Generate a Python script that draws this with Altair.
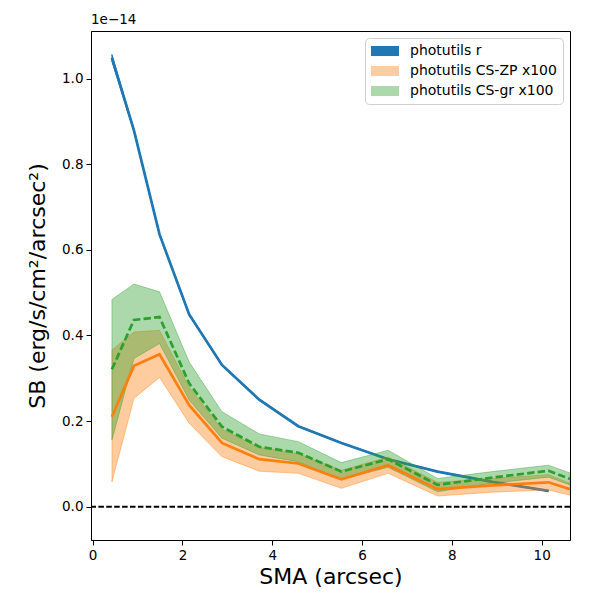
import pandas as pd
import altair as alt

# surface brightness profiles, values in units of 1e-14 erg/s/cm2/arcsec2
sma = [0.43, 0.92, 1.49, 2.15, 2.88, 3.71, 4.58, 5.54, 6.58, 7.68, 8.9, 10.15]
sma_cs = sma + [10.63]

sb_r = [1.048, 0.879, 0.636, 0.449, 0.331, 0.250, 0.188, 0.149, 0.111, 0.082, 0.058, 0.037]
sb_r_err = [0.008, 0.003, 0.002, 0.002, 0.002, 0.0015, 0.001, 0.001, 0.001, 0.001, 0.001, 0.001]

zp_mid = [0.210, 0.329, 0.356, 0.237, 0.149, 0.111, 0.101, 0.064, 0.097, 0.041, 0.050, 0.057, 0.041]
zp_hi = [0.366, 0.408, 0.412, 0.279, 0.181, 0.139, 0.124, 0.085, 0.116, 0.057, 0.066, 0.075, 0.055]
zp_lo = [0.058, 0.253, 0.302, 0.195, 0.117, 0.083, 0.078, 0.043, 0.078, 0.025, 0.034, 0.039, 0.027]

gr_mid = [0.321, 0.436, 0.443, 0.288, 0.187, 0.140, 0.126, 0.082, 0.111, 0.051, 0.068, 0.084, 0.065]
gr_hi = [0.484, 0.520, 0.502, 0.338, 0.222, 0.170, 0.152, 0.103, 0.132, 0.066, 0.082, 0.097, 0.079]
gr_lo = [0.156, 0.346, 0.381, 0.249, 0.160, 0.121, 0.105, 0.064, 0.092, 0.035, 0.055, 0.069, 0.051]

labels = ['photutils r', 'photutils CS-ZP x100', 'photutils CS-gr x100']
legend_colors = ['#1f77b4', '#ffcc9f', '#abd9ab']

BLUE, ORANGE, GREEN = '#1f77b4', '#ff7f0e', '#2ca02c'
FONT = 'DejaVu Sans'

r_df = pd.DataFrame({'sma': sma, 'sb': sb_r,
                     'hi': [a + b for a, b in zip(sb_r, sb_r_err)],
                     'lo': [a - b for a, b in zip(sb_r, sb_r_err)]})
zp_df = pd.DataFrame({'sma': sma_cs, 'sb': zp_mid, 'hi': zp_hi, 'lo': zp_lo})
gr_df = pd.DataFrame({'sma': sma_cs, 'sb': gr_mid, 'hi': gr_hi, 'lo': gr_lo})

xs = alt.Scale(domain=[-0.036, 10.63], nice=False, zero=False)
ys = alt.Scale(domain=[-0.0777, 1.111], nice=False, zero=False)

x_enc = alt.X('sma:Q', scale=xs, title='SMA (arcsec)',
              axis=alt.Axis(values=[0, 2, 4, 6, 8, 10], format='d'))
y_enc = alt.Y('sb:Q', scale=ys, title='SB (erg/s/cm²/arcsec²)',
              axis=alt.Axis(values=[0, 0.2, 0.4, 0.6, 0.8, 1.0], format='.1f'))


def band(df, color, alpha):
    return alt.Chart(df).mark_area(color=color, fillOpacity=alpha, stroke=color,
                                   strokeOpacity=alpha, strokeWidth=1, clip=True).encode(
        x=x_enc, y=alt.Y('lo:Q', scale=ys), y2='hi:Q')


def line(df, color, dash=None):
    kw = dict(color=color, strokeWidth=2.7, clip=True)
    if dash:
        kw['strokeDash'] = dash
    return alt.Chart(df).mark_line(**kw).encode(x=x_enc, y=y_enc)


zero = alt.Chart(pd.DataFrame({'sb': [0]})).mark_rule(
    color='black', strokeWidth=2, strokeDash=[5.5, 2.4]).encode(y=alt.Y('sb:Q', scale=ys))

# legend only
leg_df = pd.DataFrame({'sma': [sma[0]] * 3, 'sb': [0] * 3, 'series': labels})
leg = alt.Chart(leg_df).mark_square(opacity=0).encode(
    x=x_enc, y=y_enc,
    color=alt.Color('series:N', scale=alt.Scale(domain=labels, range=legend_colors),
                    legend=alt.Legend(title=None, orient='top-right', symbolOpacity=1,
                                      symbolType='M-2,-0.72H2V0.72H-2Z', symbolSize=196,
                                      symbolOffset=7, symbolStrokeWidth=0)))

offset_txt = alt.Chart(pd.DataFrame({'t': ['1e−14']})).mark_text(
    align='left', baseline='bottom', font=FONT, fontSize=13.5, color='black').encode(
    x=alt.value(0), y=alt.value(-4), text='t:N')

chart = alt.layer(
    band(r_df, BLUE, 1.0), line(r_df, BLUE),
    band(zp_df, ORANGE, 0.4), band(gr_df, GREEN, 0.4),
    line(zp_df, ORANGE), line(gr_df, GREEN, [7.4, 3.2]),
    zero, leg, offset_txt
).properties(
    width=479, height=509,
    autosize=alt.AutoSizeParams(type='none'),
    padding={'left': 83, 'top': 23, 'right': 22, 'bottom': 52}
).configure_view(stroke='black', strokeWidth=1).configure_axis(
    grid=False, domainColor='black', tickColor='black', tickSize=5,
    labelColor='black', labelFont=FONT, labelFontSize=13.5, labelPadding=3,
    titleFont=FONT, titleFontSize=22, titleFontWeight='normal', titleColor='black'
).configure_axisX(titlePadding=5).configure_axisY(titlePadding=12).configure_legend(
    offset=7, padding=6, fillColor='white', strokeColor='#d0d0d0', cornerRadius=4,
    labelFont=FONT, labelFontSize=14, labelColor='black', labelOffset=18, rowPadding=6
)

chart.save('out.html', embed_options={'renderer': 'svg', 'actions': False})
